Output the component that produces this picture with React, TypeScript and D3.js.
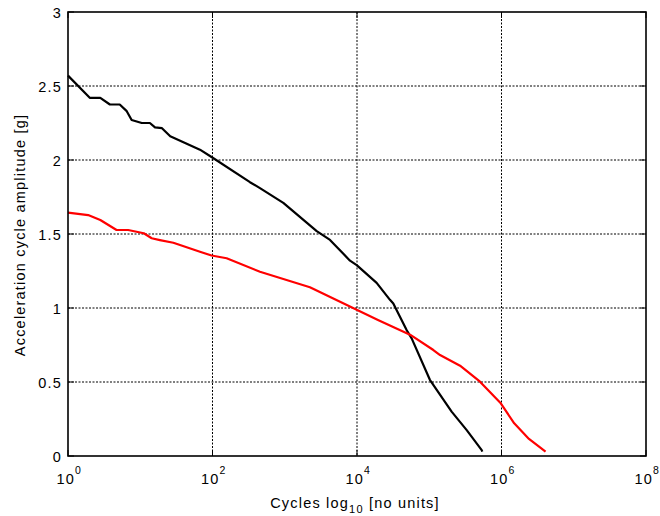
import React from "react";
import * as d3 from "d3";

// Black series: cumulative cycles vs amplitude
const blackCycles = [1, 2, 2.8, 3.8, 5.2, 6.5, 7.6, 10.5, 13.6, 16, 20, 26, 44, 67, 97, 330, 454, 955, 2770, 4230, 8000, 9900, 18700, 28600, 31800, 48800, 57100, 102000, 204000, 330000, 532000, 542000];
const blackAmp = [2.57, 2.42, 2.42, 2.375, 2.375, 2.33, 2.27, 2.25, 2.25, 2.22, 2.215, 2.16, 2.11, 2.07, 2.02, 1.85, 1.81, 1.71, 1.52, 1.46, 1.32, 1.29, 1.17, 1.055, 1.03, 0.85, 0.795, 0.515, 0.3, 0.175, 0.04, 0.03];

// Red series
const redCycles = [1, 1.9, 2.8, 4.7, 6.8, 11.2, 14.4, 18.7, 28.7, 35.5, 67, 97, 157, 454, 2230, 9900, 19500, 54200, 114000, 141000, 267000, 504000, 962000, 1500000, 2400000, 4070000];
const redAmp = [1.645, 1.628, 1.595, 1.527, 1.527, 1.505, 1.471, 1.459, 1.441, 1.426, 1.38, 1.355, 1.336, 1.245, 1.14, 0.988, 0.919, 0.82, 0.716, 0.682, 0.61, 0.502, 0.36, 0.221, 0.115, 0.029];

const xTickExps = [0, 2, 4, 6, 8];
const yTicks = [0, 0.5, 1, 1.5, 2, 2.5, 3];

const W = 660, H = 516;
const L = 68, R = 646, T = 12, B = 456;
const FONT = "'Liberation Sans', Arial, Helvetica, sans-serif";
const FS = 14.5;
const LS = 1.2;

export default function App() {
  const x = d3.scaleLog().domain([1, 1e8]).range([L, R]);
  const y = d3.scaleLinear().domain([0, 3]).range([B, T]);
  const line = d3.line<[number, number]>().x(d => x(d[0])).y(d => y(d[1]));
  const black: [number, number][] = blackCycles.map((c, i) => [c, blackAmp[i]]);
  const red: [number, number][] = redCycles.map((c, i) => [c, redAmp[i]]);

  return (
    <svg width={W} height={H} style={{ position: "absolute", left: 0, top: 0, background: "#fff" }} fontFamily={FONT}>
      <rect x={0} y={0} width={W} height={H} fill="#fff" />
      {/* grid */}
      {xTickExps.slice(1, -1).map(e => (
        <line key={"gx" + e} x1={x(10 ** e)} x2={x(10 ** e)} y1={T} y2={B} stroke="#000" strokeWidth={1} strokeDasharray="2,1.5" />
      ))}
      {yTicks.slice(1, -1).map(v => (
        <line key={"gy" + v} x1={L} x2={R} y1={y(v)} y2={y(v)} stroke="#000" strokeWidth={1} strokeDasharray="2,1.5" />
      ))}
      {/* ticks inward */}
      {xTickExps.map(e => (
        <g key={"tx" + e}>
          <line x1={x(10 ** e)} x2={x(10 ** e)} y1={B} y2={B - 6} stroke="#000" strokeWidth={1} />
          <line x1={x(10 ** e)} x2={x(10 ** e)} y1={T} y2={T + 6} stroke="#000" strokeWidth={1} />
        </g>
      ))}
      {yTicks.map(v => (
        <g key={"ty" + v}>
          <line x1={L} x2={L + 6} y1={y(v)} y2={y(v)} stroke="#000" strokeWidth={1} />
          <line x1={R} x2={R - 6} y1={y(v)} y2={y(v)} stroke="#000" strokeWidth={1} />
        </g>
      ))}
      {/* data */}
      <path d={line(black) || ""} fill="none" stroke="#000" strokeWidth={2.2} strokeLinejoin="round" />
      <path d={line(red) || ""} fill="none" stroke="#ff0000" strokeWidth={2.2} strokeLinejoin="round" />
      {/* frame */}
      <rect x={L} y={T} width={R - L} height={B - T} fill="none" stroke="#000" strokeWidth={1.6} />
      {/* y tick labels */}
      {yTicks.map(v => (
        <text key={"ly" + v} x={L - 6} y={y(v) + 6} textAnchor="end" fontSize={FS} letterSpacing={LS} fill="#000">{String(v)}</text>
      ))}
      {/* x tick labels */}
      {xTickExps.map(e => (
        <text key={"lx" + e} x={x(10 ** e) - 11.5} y={484} fontSize={FS} letterSpacing={LS} fill="#000">
          10<tspan dy={-10} fontSize={10.5}>{e}</tspan>
        </text>
      ))}
      {/* axis labels */}
      <text x={355} y={508} textAnchor="middle" fontSize={FS} letterSpacing={LS} fill="#000">
        Cycles log<tspan dy={5} fontSize={11}>10</tspan><tspan dy={-5}> [no units]</tspan>
      </text>
      <text transform={`translate(25,${235}) rotate(-90)`} textAnchor="middle" fontSize={FS} letterSpacing={LS} fill="#000">
        Acceleration cycle amplitude [g]
      </text>
    </svg>
  );
}
